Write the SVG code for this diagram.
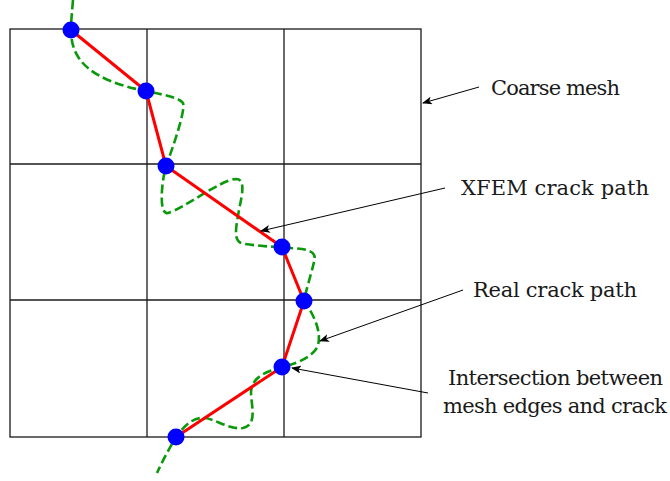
<svg xmlns="http://www.w3.org/2000/svg" width="670" height="481" viewBox="0 0 670 481">
<style>
.grid{stroke:#1a1a1a;stroke-width:1.3;fill:none}
.crack{stroke:#ff0000;stroke-width:3;fill:none;stroke-linejoin:round}
.real{stroke:#0a990a;stroke-width:2.6;fill:none;stroke-dasharray:9 4}
.dot{fill:#0000ff}
.ann{stroke:#000;stroke-width:1;fill:none;marker-end:url(#ah)}
.lbl{font-family:"DejaVu Serif","Liberation Serif",serif;font-size:21px;fill:#1a1a1a}
</style>
<defs>
<marker id="ah" viewBox="0 0 10 8" refX="9" refY="4" markerWidth="10" markerHeight="8" markerUnits="userSpaceOnUse" orient="auto">
<path d="M0,0 L10,4 L0,8 L2.5,4 Z" fill="#000"/>
</marker>
</defs>
<g id="mesh">
<rect class="grid" x="10" y="29" width="411" height="408"/>
<line class="grid" x1="147" y1="29" x2="147" y2="437"/>
<line class="grid" x1="284" y1="29" x2="284" y2="437"/>
<line class="grid" x1="10" y1="164" x2="421" y2="164"/>
<line class="grid" x1="10" y1="300" x2="421" y2="300"/>
</g>
<g id="real-crack">
<path class="real" d="M73,0 C72,12 71,22 71,30 C71,60 90,80 146,91 C165,95 180,98 183,103 C186,110 172,150 166,166 C162,180 158,215 168,213 C185,208 220,180 236,179 C246,179 242,195 239,210 C236,228 232,243 245,244 C260,246 275,247 290,248 C305,249 318,250 314,262 C311,275 306,290 304,301 C312,312 322,330 318,345 C315,355 300,363 282,367 C270,371 252,375 251,392 C251,405 258,425 243,428 C230,430 215,419 205,418 C193,417 185,425 176,437 C170,447 163,460 157,473"/>
</g>
<g id="xfem-crack">
<polyline class="crack" points="71,30 146,91 166,166 282,247 304,301 282,367 176,437"/>
</g>
<g id="intersections">
<circle class="dot" cx="71" cy="30" r="8.5"/>
<circle class="dot" cx="146" cy="91" r="8.5"/>
<circle class="dot" cx="166" cy="166" r="8.5"/>
<circle class="dot" cx="282" cy="247" r="8.5"/>
<circle class="dot" cx="304" cy="301" r="8.5"/>
<circle class="dot" cx="282" cy="367" r="8.5"/>
<circle class="dot" cx="176" cy="437" r="8.5"/>
</g>
<g id="connectors">
<line class="ann" x1="479" y1="87" x2="423" y2="103"/>
<line class="ann" x1="445" y1="188" x2="261" y2="231"/>
<line class="ann" x1="463" y1="290" x2="320" y2="341"/>
<line class="ann" x1="428" y1="393" x2="292" y2="368"/>
</g>
<g id="label-coarse"><text class="lbl" x="491" y="95" textLength="129">Coarse mesh</text></g>
<g id="label-xfem"><text class="lbl" x="461" y="195" textLength="188">XFEM crack path</text></g>
<g id="label-real"><text class="lbl" x="473" y="297" textLength="164">Real crack path</text></g>
<g id="label-intersection">
<text class="lbl" x="555.5" y="385" text-anchor="middle" textLength="215">Intersection between</text>
<text class="lbl" x="555" y="413" text-anchor="middle" textLength="224">mesh edges and crack</text>
</g>
</svg>
